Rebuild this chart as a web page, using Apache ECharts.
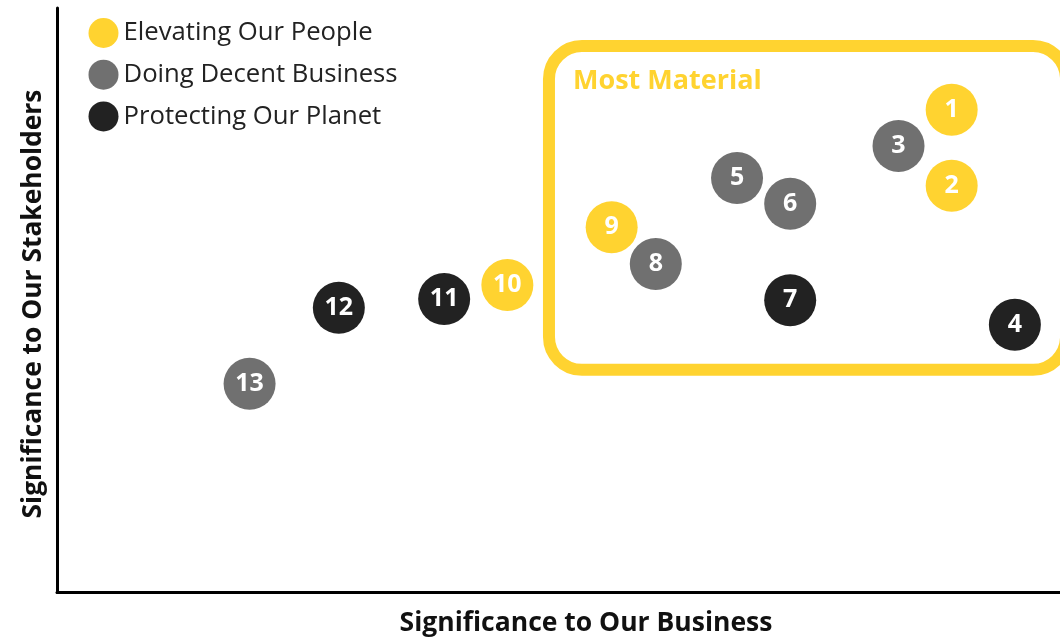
<!DOCTYPE html>
<html>
<head>
<meta charset="utf-8">
<script src="https://cdn.jsdelivr.net/npm/echarts@6/dist/echarts.min.js"></script>
<style>
html,body{margin:0;padding:0;background:#fff;}
#main{width:1060px;height:637px;}
</style>
</head>
<body>
<div id="main"></div>
<script>
// Data
const groupNames = ['Elevating Our People', 'Doing Decent Business', 'Protecting Our Planet'];
const groupColors = ['#FFD330', '#707070', '#222222'];
const ids    = [1, 2, 3, 4, 5, 6, 7, 8, 9, 10, 11, 12, 13];
const xs     = [89.2, 89.2, 83.9, 95.5, 67.8, 73.1, 73.1, 59.7, 55.3, 44.9, 38.6, 28.1, 19.2];
const ys     = [82.6, 69.6, 76.4, 45.8, 70.9, 66.5, 50.0, 56.2, 62.5, 52.6, 50.2, 48.7, 35.7];
const groups = [0, 0, 1, 2, 1, 1, 2, 1, 0, 0, 2, 2, 1];
// Highlight box (data coordinates)
const boxX = [49.05, 100.6];
const boxY = [38.1, 93.5];
const boxLabel = 'Most Material';
const xTitle = 'Significance to Our Business';
const yTitle = 'Significance to Our Stakeholders';

const FONT = "'Open Sans', 'Noto Sans', sans-serif";
const chart = echarts.init(document.getElementById('main'), null, {renderer: 'canvas'});

const series = groupNames.map((name, g) => ({
  name: name,
  type: 'scatter',
  symbol: 'circle',
  symbolSize: 52,
  itemStyle: {color: groupColors[g], opacity: 1},
  label: {
    show: true, position: 'inside',
    formatter: p => p.value[2],
    color: '#fff', fontSize: 25, fontWeight: 'bold', fontFamily: FONT
  },
  emphasis: {disabled: true},
  z: 5,
  data: ids.map((id, i) => groups[i] === g ? [xs[i], ys[i], id] : null).filter(d => d)
}));

chart.setOption({
  animation: false,
  backgroundColor: '#fff',
  grid: {left: 57, right: 0, top: 8, bottom: 44.5, containLabel: false},
  legend: {
    orient: 'vertical', left: 83.5, top: 13,
    icon: 'circle', itemWidth: 30, itemHeight: 30, itemGap: 11.7,
    textStyle: {fontSize: 25.7, color: '#222', fontFamily: FONT},
    data: groupNames
  },
  xAxis: {
    type: 'value', min: 0, max: 100,
    axisLine: {show: true, onZero: false, lineStyle: {color: '#000', width: 3}},
    axisTick: {show: false}, axisLabel: {show: false}, splitLine: {show: false}
  },
  yAxis: {
    type: 'value', min: 0, max: 100,
    axisLine: {show: true, onZero: false, lineStyle: {color: '#000', width: 3}},
    axisTick: {show: false}, axisLabel: {show: false}, splitLine: {show: false}
  },
  series: series
});

const p1 = chart.convertToPixel({gridIndex: 0}, [boxX[0], boxY[1]]);
const p2 = chart.convertToPixel({gridIndex: 0}, [boxX[1], boxY[0]]);
chart.setOption({
  graphic: [
    {
      type: 'rect', z: 1,
      shape: {x: p1[0], y: p1[1], width: p2[0] - p1[0], height: p2[1] - p1[1], r: 33},
      style: {fill: 'none', stroke: '#FFD330', lineWidth: 12}
    },
    {
      type: 'text', z: 2, x: p1[0] + 24, y: p1[1] + 35,
      style: {text: boxLabel, fill: '#FFD330', font: "bold 27px " + FONT, textVerticalAlign: 'middle'}
    },
    {
      type: 'text', z: 2, x: 586, y: 623,
      style: {text: xTitle, fill: '#111', font: "bold 26.5px " + FONT, textAlign: 'center', textVerticalAlign: 'middle'}
    },
    {
      type: 'text', z: 2, x: 33, y: 304, rotation: Math.PI / 2,
      style: {text: yTitle, fill: '#111', font: "bold 26.4px " + FONT, textAlign: 'center', textVerticalAlign: 'middle'}
    }
  ]
});
</script>
</body>
</html>
